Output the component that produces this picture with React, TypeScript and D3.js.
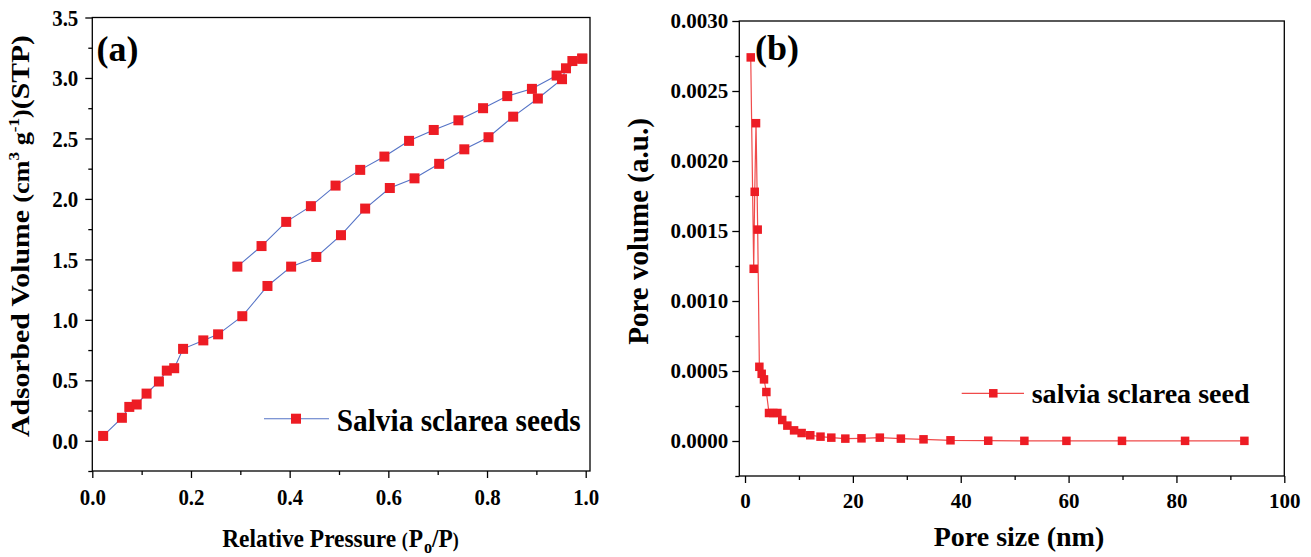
import React, { useEffect, useRef } from 'react';
import * as d3 from 'd3';

// (a) N2 isotherm, adsorption and desorption branches
const adsP = [0.022, 0.060, 0.075, 0.090, 0.110, 0.135, 0.151, 0.166, 0.184, 0.225, 0.255, 0.304, 0.355, 0.403, 0.454, 0.504, 0.553, 0.603, 0.653, 0.703, 0.754, 0.803, 0.853, 0.903, 0.952, 0.960, 0.973, 0.993];
const adsV = [0.04, 0.19, 0.28, 0.30, 0.39, 0.49, 0.58, 0.60, 0.76, 0.83, 0.88, 1.03, 1.28, 1.44, 1.52, 1.70, 1.92, 2.09, 2.17, 2.29, 2.41, 2.51, 2.68, 2.83, 2.99, 3.08, 3.14, 3.16];
const desP = [0.993, 0.941, 0.891, 0.841, 0.792, 0.742, 0.692, 0.642, 0.592, 0.543, 0.493, 0.443, 0.393, 0.343, 0.294];
const desV = [3.16, 3.02, 2.91, 2.85, 2.75, 2.65, 2.57, 2.48, 2.35, 2.24, 2.11, 1.94, 1.81, 1.61, 1.44];

// (b) pore size distribution
const poreSize = [1.06, 1.61, 1.80, 2.04, 2.35, 2.66, 3.09, 3.52, 3.96, 4.45, 5.25, 6.0, 6.9, 7.85, 9.1, 10.5, 12.1, 14.0, 16.0, 18.6, 21.6, 25.0, 28.9, 33.1, 38.1, 45.1, 51.8, 59.6, 69.9, 81.6, 92.6];
const poreVol = [0.00274, 0.00123, 0.00178, 0.00227, 0.00151, 0.00053, 0.00048, 0.00044, 0.00035, 0.00020, 0.00020, 0.00020, 0.00015, 0.00011, 0.000076, 0.000057, 0.000041, 0.000031, 0.000024, 0.000017, 0.000019, 0.000024, 0.000017, 0.000012, 0.000005, 0.000002, 0.000001, 0.000001, 0.000001, 0.000001, 0.000001];

const aXTicks = [0, 0.2, 0.4, 0.6, 0.8, 1.0];
const aXMinor = [0.1, 0.3, 0.5, 0.7, 0.9];
const aYTicks = [0, 0.5, 1.0, 1.5, 2.0, 2.5, 3.0, 3.5];
const aYMinor = [-0.25, 0.25, 0.75, 1.25, 1.75, 2.25, 2.75, 3.25];
const bXTicks = [0, 20, 40, 60, 80, 100];
const bXMinor = [10, 30, 50, 70, 90];
const bYTicks = [0, 0.0005, 0.001, 0.0015, 0.002, 0.0025, 0.003];
const bYMinor = [-0.00025, 0.00025, 0.00075, 0.00125, 0.00175, 0.00225, 0.00275];

const W = 1311;
const H = 557;
const FONT = '"Liberation Serif", "Times New Roman", serif';
const RED = '#ed1c24';

const App: React.FC = () => {
  const svgRef = useRef<SVGSVGElement | null>(null);

  useEffect(() => {
    if (!svgRef.current) return;
    const svg = d3.select(svgRef.current);
    svg.selectAll('*').remove();
    svg.append('rect').attr('width', W).attr('height', H).attr('fill', '#fff');

    const drawAxes = (
      x: d3.ScaleLinear<number, number>, y: d3.ScaleLinear<number, number>,
      xt: number[], xm: number[], yt: number[], ym: number[],
      fx: (d: number) => string, fy: (d: number) => string,
      fs: number, ypad: number, cls: string
    ) => {
      const [x0, x1] = x.range();
      const [y0, y1] = y.range();
      const style = (g: d3.Selection<SVGGElement, unknown, null, undefined>) => {
        g.attr('font-family', FONT).attr('font-size', fs).attr('font-weight', 'bold');
        g.select('.domain').remove();
        g.selectAll('line').attr('stroke', '#000').attr('stroke-width', 1.3);
        g.selectAll('text').attr('fill', '#000').attr('class', cls);
      };
      svg.append('g').attr('transform', `translate(0,${y0})`)
        .call(d3.axisBottom(x).tickValues(xt).tickFormat(d => fx(d as number)).tickSize(7).tickPadding(10))
        .call(style);
      svg.append('g').attr('transform', `translate(0,${y0})`)
        .call(d3.axisBottom(x).tickValues(xm).tickFormat(() => '').tickSize(4))
        .call(style);
      svg.append('g').attr('transform', `translate(${x0},0)`)
        .call(d3.axisLeft(y).tickValues(yt).tickFormat(d => fy(d as number)).tickSize(7).tickPadding(ypad))
        .call(style);
      svg.append('g').attr('transform', `translate(${x0},0)`)
        .call(d3.axisLeft(y).tickValues(ym).tickFormat(() => '').tickSize(4))
        .call(style);
      svg.append('rect')
        .attr('x', x0).attr('y', y1).attr('width', x1 - x0).attr('height', y0 - y1)
        .attr('fill', 'none').attr('stroke', '#000').attr('stroke-width', 1.3);
    };

    // ---------- panel (a)
    const xa = d3.scaleLinear().domain([0, 1.0087]).range([92.3, 590]);
    const ya = d3.scaleLinear().domain([-0.25, 3.5]).range([471, 17.5]);
    drawAxes(xa, ya, aXTicks, aXMinor, aYTicks, aYMinor, d3.format('.1f'), d3.format('.1f'), 24, 7, 'cond');

    const lineA = d3.line<[number, number]>().x(d => xa(d[0])).y(d => ya(d[1]));
    const ads = adsP.map((p, i) => [p, adsV[i]] as [number, number]);
    const des = desP.map((p, i) => [p, desV[i]] as [number, number]);
    [ads, des].forEach(s => {
      svg.append('path').attr('d', lineA(s)).attr('fill', 'none').attr('stroke', '#5573c6').attr('stroke-width', 1.1);
    });
    const ma = 10;
    svg.append('g').selectAll('rect').data([...ads, ...des]).join('rect')
      .attr('x', d => xa(d[0]) - ma / 2).attr('y', d => ya(d[1]) - ma / 2)
      .attr('width', ma).attr('height', ma).attr('fill', RED);

    // legend (a)
    svg.append('line').attr('x1', 264).attr('x2', 329).attr('y1', 418.7).attr('y2', 418.7)
      .attr('stroke', '#5573c6').attr('stroke-width', 1.1);
    svg.append('rect').attr('x', 296 - ma / 2).attr('y', 418.7 - ma / 2).attr('width', ma).attr('height', ma).attr('fill', RED);
    svg.append('text').attr('x', 336.7).attr('y', 430.7)
      .attr('font-family', FONT).attr('font-weight', 'bold').attr('font-size', 32)
      .attr('textLength', 244).attr('lengthAdjust', 'spacingAndGlyphs')
      .text('Salvia sclarea seeds');

    svg.append('text').attr('x', 96.5).attr('y', 61)
      .attr('font-family', FONT).attr('font-weight', 'bold').attr('font-size', 36)
      .text('(a)');

    // x title (a), condensed like the rest of the panel
    const xt = svg.append('text').attr('transform', 'translate(340.5,547) scale(0.9,1)').attr('text-anchor', 'middle')
      .attr('font-family', FONT).attr('font-weight', 'bold').attr('font-size', 26);
    xt.append('tspan').text('Relative Pressure ');
    xt.append('tspan').attr('font-size', 20).text('(');
    xt.append('tspan').attr('dx', 1).text('P');
    xt.append('tspan').attr('font-size', 18).attr('dx', 1).attr('dy', 6).text('o');
    xt.append('tspan').attr('dy', -6).text('/P');
    xt.append('tspan').attr('font-size', 20).text(')');

    // y title (a)
    const yt = svg.append('text').attr('transform', 'translate(29,236) rotate(-90)').attr('text-anchor', 'middle')
      .attr('font-family', FONT).attr('font-weight', 'bold').attr('font-size', 26)
      .attr('textLength', 402).attr('lengthAdjust', 'spacingAndGlyphs');
    yt.append('tspan').text('Adsorbed Volume ');
    yt.append('tspan').attr('font-size', 23).text('(cm');
    yt.append('tspan').attr('font-size', 15).attr('dy', -10).text('3');
    yt.append('tspan').attr('font-size', 23).attr('dy', 10).text(' g');
    yt.append('tspan').attr('font-size', 15).attr('dy', -10).text('-1');
    yt.append('tspan').attr('font-size', 23).attr('dy', 10).text(')');
    yt.append('tspan').text('(STP)');

    // ---------- panel (b)
    const xb = d3.scaleLinear().domain([-1.06, 100]).range([739.3, 1284.3]);
    const yb = d3.scaleLinear().domain([-0.00025, 0.003]).range([476, 21]);
    drawAxes(xb, yb, bXTicks, bXMinor, bYTicks, bYMinor, d3.format('d'), d3.format('.4f'), 21, 4, 'tickb');

    const pts = poreSize.map((p, i) => [p, poreVol[i]] as [number, number]);
    const lineB = d3.line<[number, number]>().x(d => xb(d[0])).y(d => yb(d[1]));
    svg.append('path').attr('d', lineB(pts)).attr('fill', 'none').attr('stroke', '#f04a4a').attr('stroke-width', 1.2);
    const mb = 8.5;
    svg.append('g').selectAll('rect').data(pts).join('rect')
      .attr('x', d => xb(d[0]) - mb / 2).attr('y', d => yb(d[1]) - mb / 2)
      .attr('width', mb).attr('height', mb).attr('fill', RED);

    svg.append('text').attr('x', 755).attr('y', 60)
      .attr('font-family', FONT).attr('font-weight', 'bold').attr('font-size', 36)
      .text('(b)');

    // legend (b)
    svg.append('line').attr('x1', 961.7).attr('x2', 1024).attr('y1', 393.3).attr('y2', 393.3)
      .attr('stroke', '#f04a4a').attr('stroke-width', 1.2);
    svg.append('rect').attr('x', 993.3 - mb / 2).attr('y', 393.3 - mb / 2).attr('width', mb).attr('height', mb).attr('fill', RED);
    svg.append('text').attr('x', 1031.7).attr('y', 403)
      .attr('font-family', FONT).attr('font-weight', 'bold').attr('font-size', 28)
      .attr('textLength', 218).attr('lengthAdjust', 'spacingAndGlyphs')
      .text('salvia sclarea seed');

    svg.append('text').attr('x', 1019).attr('y', 546).attr('text-anchor', 'middle')
      .attr('font-family', FONT).attr('font-weight', 'bold').attr('font-size', 28)
      .text('Pore size (nm)');

    svg.append('text').attr('transform', 'translate(648,231.5) rotate(-90)').attr('text-anchor', 'middle')
      .attr('font-family', FONT).attr('font-weight', 'bold').attr('font-size', 29)
      .text('Pore volume (a.u.)');

    // left panel tick labels are horizontally condensed in the original
    svg.selectAll<SVGTextElement, unknown>('text.cond').each(function () {
      const len = this.getComputedTextLength();
      if (len > 0) {
        this.setAttribute('textLength', String(len * 0.87));
        this.setAttribute('lengthAdjust', 'spacingAndGlyphs');
      }
    });
  }, []);

  return <svg ref={svgRef} width={W} height={H} style={{ position: 'absolute', left: 0, top: 0, display: 'block' }} />;
};

export default App;
